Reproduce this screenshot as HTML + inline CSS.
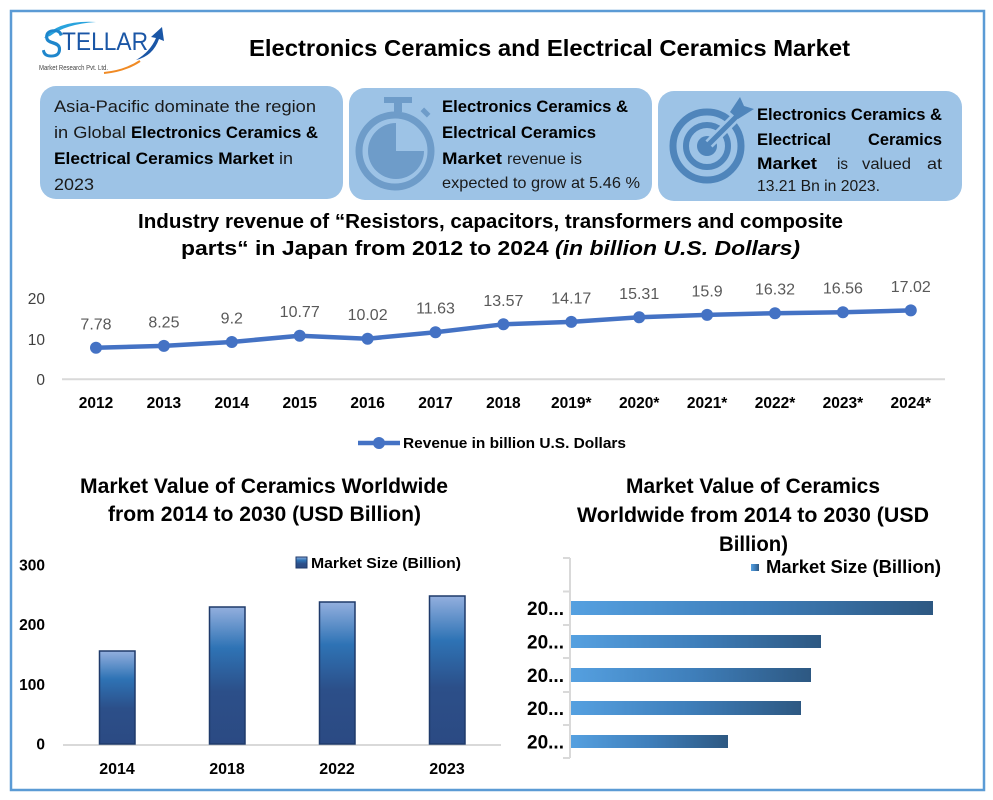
<!DOCTYPE html>
<html><head><meta charset="utf-8">
<style>
html,body{margin:0;padding:0;background:#fff;}
svg{display:block;font-family:"Liberation Sans",Arial,sans-serif;}
</style></head>
<body>
<svg width="993" height="800" viewBox="0 0 993 800" xmlns="http://www.w3.org/2000/svg">
<defs>
  <linearGradient id="vbar" x1="0" y1="0" x2="0" y2="1">
    <stop offset="0" stop-color="#93afde"/>
    <stop offset="0.3" stop-color="#2e73b5"/>
    <stop offset="0.62" stop-color="#2c4f89"/>
    <stop offset="1" stop-color="#2b4a83"/>
  </linearGradient>
  <linearGradient id="hbar" x1="0" y1="0" x2="1" y2="0">
    <stop offset="0" stop-color="#55a0e0"/>
    <stop offset="0.5" stop-color="#3f7fbb"/>
    <stop offset="1" stop-color="#2d5882"/>
  </linearGradient>
</defs>
<rect x="0" y="0" width="993" height="800" fill="#fff"/>
<rect x="11" y="11" width="973" height="779" fill="none" stroke="#5b9bd5" stroke-width="2.5"/>

<!-- Logo -->
<path d="M44,38 Q58,20 96,22 Q66,24 50,36 Z" fill="#29a3dd"/>
<text x="41" y="57" font-size="40" font-style="italic" fill="#1e86cc" textLength="22" lengthAdjust="spacingAndGlyphs">S</text>
<text x="62" y="50" font-size="25" fill="#1a56a6" textLength="86" lengthAdjust="spacingAndGlyphs">TELLAR</text>
<path d="M136,60 Q150,52 156,38 L151,37 L162,27 L164,41 L159,39 Q153,56 136,60 Z" fill="#1a56a6"/>
<text x="39" y="70" font-size="7.5" fill="#444" textLength="69" lengthAdjust="spacingAndGlyphs">Market Research Pvt. Ltd.</text>
<path d="M104,73 Q125,71 140,61" fill="none" stroke="#f08a24" stroke-width="2"/>

<!-- Title -->
<text x="249" y="56" font-size="23" font-weight="bold" fill="#000" textLength="601" lengthAdjust="spacingAndGlyphs">Electronics Ceramics and Electrical Ceramics Market</text>

<!-- Box 1 -->
<rect x="40" y="86" width="303" height="113" rx="16" fill="#9dc3e6"/>
<g font-size="17" fill="#1a1a1a">
<text x="54" y="112" textLength="262" lengthAdjust="spacingAndGlyphs">Asia-Pacific dominate the region</text>
<text x="54" y="138" textLength="72" lengthAdjust="spacingAndGlyphs">in Global</text>
<text x="131" y="138" font-weight="bold" fill="#000" textLength="187" lengthAdjust="spacingAndGlyphs">Electronics Ceramics &amp;</text>
<text x="54" y="164" font-weight="bold" fill="#000" textLength="220" lengthAdjust="spacingAndGlyphs">Electrical Ceramics Market</text>
<text x="279" y="164" textLength="14" lengthAdjust="spacingAndGlyphs">in</text>
<text x="54" y="190" textLength="40" lengthAdjust="spacingAndGlyphs">2023</text>
</g>

<!-- Box 2 -->
<rect x="349" y="88" width="303" height="112" rx="16" fill="#9dc3e6"/>
<g fill="#6e9cc9">
  <rect x="384" y="97" width="28" height="6"/>
  <rect x="394" y="102" width="8" height="10"/>
  <circle cx="395" cy="151" r="36" fill="none" stroke="#6e9cc9" stroke-width="7"/>
  <rect x="421" y="110" width="9" height="5" transform="rotate(45 425.5 112.5)"/>
  <path d="M396,151 L396,123 A28,28 0 1,0 424,151 Z"/>
</g>
<g font-size="17" fill="#1a1a1a">
<text x="442" y="112" font-weight="bold" fill="#000" textLength="186" lengthAdjust="spacingAndGlyphs">Electronics Ceramics &amp;</text>
<text x="442" y="138" font-weight="bold" fill="#000" textLength="154" lengthAdjust="spacingAndGlyphs">Electrical Ceramics</text>
<text x="442" y="164" font-weight="bold" fill="#000" textLength="60" lengthAdjust="spacingAndGlyphs">Market</text>
<text x="507" y="164" font-size="16" textLength="75" lengthAdjust="spacingAndGlyphs">revenue is</text>
<text x="442" y="188" font-size="16" textLength="198" lengthAdjust="spacingAndGlyphs">expected to grow at 5.46 %</text>
</g>

<!-- Box 3 -->
<rect x="658" y="91" width="304" height="110" rx="16" fill="#9dc3e6"/>
<g>
  <circle cx="707" cy="146" r="34" fill="none" stroke="#4f85bb" stroke-width="7"/>
  <circle cx="707" cy="146" r="21" fill="none" stroke="#4f85bb" stroke-width="6"/>
  <circle cx="707" cy="146" r="10" fill="#4f85bb"/>
  <line x1="709" y1="144" x2="740" y2="113" stroke="#9dc3e6" stroke-width="10"/>
  <line x1="707" y1="146" x2="740" y2="113" stroke="#4f85bb" stroke-width="5"/>
  <polygon points="730,112 740,97 744,106 754,109 738,119" fill="#4f85bb"/>
</g>
<g font-size="17" fill="#1a1a1a">
<text x="757" y="120" font-weight="bold" fill="#000" textLength="185" lengthAdjust="spacingAndGlyphs">Electronics Ceramics &amp;</text>
<text x="757" y="145" font-weight="bold" fill="#000" textLength="74" lengthAdjust="spacingAndGlyphs">Electrical</text>
<text x="868" y="145" font-weight="bold" fill="#000" textLength="74" lengthAdjust="spacingAndGlyphs">Ceramics</text>
<text x="757" y="169" font-weight="bold" fill="#000" textLength="60" lengthAdjust="spacingAndGlyphs">Market</text>
<text x="837" y="169" font-size="16" textLength="11" lengthAdjust="spacingAndGlyphs">is</text>
<text x="862" y="169" font-size="16" textLength="49" lengthAdjust="spacingAndGlyphs">valued</text>
<text x="927" y="169" font-size="16" textLength="15" lengthAdjust="spacingAndGlyphs">at</text>
<text x="757" y="191" font-size="16" textLength="123" lengthAdjust="spacingAndGlyphs">13.21 Bn in 2023.</text>
</g>

<!-- Line chart title -->
<text x="138" y="228" font-size="20" font-weight="bold" fill="#000" textLength="705" lengthAdjust="spacingAndGlyphs">Industry revenue of “Resistors, capacitors, transformers and composite</text>
<text x="181" y="255" font-size="20" font-weight="bold" fill="#000" textLength="619" lengthAdjust="spacingAndGlyphs">parts“ in Japan from 2012 to 2024 <tspan font-style="italic">(in billion U.S. Dollars)</tspan></text>

<!-- Line chart -->
<line x1="62" y1="379.3" x2="945" y2="379.3" stroke="#d9d9d9" stroke-width="2"/>
<g font-size="15.5" fill="#404040" text-anchor="end">
<text x="45" y="304">20</text>
<text x="45" y="345">10</text>
<text x="45" y="385">0</text>
</g>
<polyline fill="none" stroke="#4472c4" stroke-width="4.5" stroke-linejoin="round"
 points="96,347.8 163.9,345.9 231.8,342.0 299.7,335.7 367.6,338.7 435.5,332.2 503.4,324.3 571.3,321.9 639.2,317.3 707.1,314.9 775,313.2 842.9,312.2 910.8,310.4"/>
<g fill="#4472c4">
<circle cx="96" cy="347.8" r="6"/><circle cx="163.9" cy="345.9" r="6"/><circle cx="231.8" cy="342.0" r="6"/>
<circle cx="299.7" cy="335.7" r="6"/><circle cx="367.6" cy="338.7" r="6"/><circle cx="435.5" cy="332.2" r="6"/>
<circle cx="503.4" cy="324.3" r="6"/><circle cx="571.3" cy="321.9" r="6"/><circle cx="639.2" cy="317.3" r="6"/>
<circle cx="707.1" cy="314.9" r="6"/><circle cx="775" cy="313.2" r="6"/><circle cx="842.9" cy="312.2" r="6"/>
<circle cx="910.8" cy="310.4" r="6"/>
</g>
<g font-size="16" fill="#595959" text-anchor="middle">
<text x="96" y="329.3">7.78</text>
<text x="163.9" y="327.4">8.25</text>
<text x="231.8" y="323.5">9.2</text>
<text x="299.7" y="317.2">10.77</text>
<text x="367.6" y="320.2">10.02</text>
<text x="435.5" y="313.7">11.63</text>
<text x="503.4" y="305.8">13.57</text>
<text x="571.3" y="303.4">14.17</text>
<text x="639.2" y="298.8">15.31</text>
<text x="707.1" y="296.4">15.9</text>
<text x="775" y="294.7">16.32</text>
<text x="842.9" y="293.7">16.56</text>
<text x="910.8" y="291.9">17.02</text>
</g>
<g font-size="15.5" font-weight="bold" fill="#000" text-anchor="middle">
<text x="96" y="408">2012</text>
<text x="163.9" y="408">2013</text>
<text x="231.8" y="408">2014</text>
<text x="299.7" y="408">2015</text>
<text x="367.6" y="408">2016</text>
<text x="435.5" y="408">2017</text>
<text x="503.4" y="408">2018</text>
<text x="571.3" y="408">2019*</text>
<text x="639.2" y="408">2020*</text>
<text x="707.1" y="408">2021*</text>
<text x="775" y="408">2022*</text>
<text x="842.9" y="408">2023*</text>
<text x="910.8" y="408">2024*</text>
</g>
<line x1="358" y1="443" x2="400" y2="443" stroke="#4472c4" stroke-width="4.5"/>
<circle cx="379" cy="443" r="6" fill="#4472c4"/>
<text x="403" y="448" font-size="15" font-weight="bold" fill="#000" textLength="223" lengthAdjust="spacingAndGlyphs">Revenue in billion U.S. Dollars</text>

<!-- Bottom-left chart -->
<text x="80" y="493" font-size="21" font-weight="bold" fill="#000" textLength="368" lengthAdjust="spacingAndGlyphs">Market Value of Ceramics Worldwide</text>
<text x="108" y="521" font-size="21" font-weight="bold" fill="#000" textLength="313" lengthAdjust="spacingAndGlyphs">from 2014 to 2030 (USD Billion)</text>
<rect x="296" y="557" width="11" height="11" fill="url(#vbar)" stroke="#1f3a6a" stroke-width="1"/>
<text x="311" y="568" font-size="15" font-weight="bold" fill="#000" textLength="150" lengthAdjust="spacingAndGlyphs">Market Size (Billion)</text>
<g font-size="15.5" font-weight="bold" fill="#000" text-anchor="end">
<text x="45" y="570.5">300</text>
<text x="45" y="630">200</text>
<text x="45" y="690">100</text>
<text x="45" y="749.5">0</text>
</g>
<line x1="63" y1="745" x2="501" y2="745" stroke="#d9d9d9" stroke-width="2"/>
<g fill="url(#vbar)" stroke="#1f3a6a" stroke-width="1.5">
<rect x="99.5" y="651" width="35.5" height="93"/>
<rect x="209.5" y="607" width="35.5" height="137"/>
<rect x="319.5" y="602" width="35.5" height="142"/>
<rect x="429.5" y="596" width="35.5" height="148"/>
</g>
<g font-size="16" font-weight="bold" fill="#000" text-anchor="middle">
<text x="117" y="774">2014</text>
<text x="227" y="774">2018</text>
<text x="337" y="774">2022</text>
<text x="447" y="774">2023</text>
</g>

<!-- Bottom-right chart -->
<text x="626" y="493" font-size="21" font-weight="bold" fill="#000" textLength="254" lengthAdjust="spacingAndGlyphs">Market Value of Ceramics</text>
<text x="577" y="522" font-size="21" font-weight="bold" fill="#000" textLength="352" lengthAdjust="spacingAndGlyphs">Worldwide from 2014 to 2030 (USD</text>
<text x="719" y="551" font-size="21" font-weight="bold" fill="#000" textLength="69" lengthAdjust="spacingAndGlyphs">Billion)</text>
<rect x="751" y="564" width="8" height="7" fill="url(#hbar)"/>
<text x="766" y="573" font-size="18" font-weight="bold" fill="#000" textLength="175" lengthAdjust="spacingAndGlyphs">Market Size (Billion)</text>
<g stroke="#d9d9d9" stroke-width="2">
<line x1="570" y1="558" x2="570" y2="758"/>
<line x1="563" y1="558" x2="570" y2="558"/>
<line x1="563" y1="591.5" x2="570" y2="591.5"/>
<line x1="563" y1="625" x2="570" y2="625"/>
<line x1="563" y1="658" x2="570" y2="658"/>
<line x1="563" y1="692" x2="570" y2="692"/>
<line x1="563" y1="725" x2="570" y2="725"/>
<line x1="563" y1="758" x2="570" y2="758"/>
</g>
<g fill="url(#hbar)">
<rect x="571" y="601" width="362" height="14"/>
<rect x="571" y="635" width="250" height="13"/>
<rect x="571" y="668" width="240" height="14"/>
<rect x="571" y="701" width="230" height="14"/>
<rect x="571" y="735" width="157" height="13"/>
</g>
<g font-size="19" font-weight="bold" fill="#000" text-anchor="end">
<text x="564" y="615">20...</text>
<text x="564" y="648.5">20...</text>
<text x="564" y="682">20...</text>
<text x="564" y="715">20...</text>
<text x="564" y="748.5">20...</text>
</g>
</svg>
</body></html>
